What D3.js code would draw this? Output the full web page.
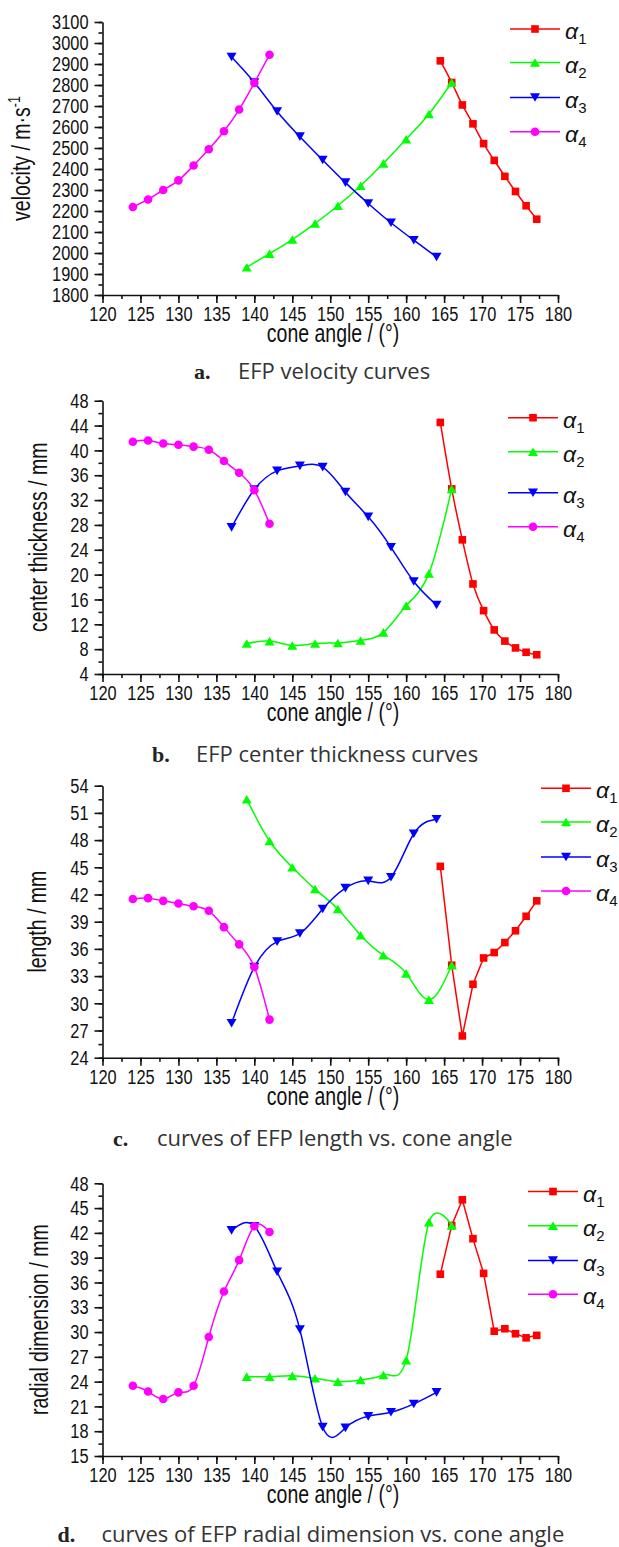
<!DOCTYPE html>
<html>
<head>
<meta charset="utf-8">
<script src="https://cdn.jsdelivr.net/npm/d3@7"></script>
<style>
  body { margin: 0; background: #fff; }
  svg { display: block; }
  .tick text { font-family: "Liberation Sans", Arial, sans-serif; font-size: 21px; fill: #111; }
  .axtitle { font-family: "Liberation Sans", Arial, sans-serif; font-size: 25px; fill: #111; }
  .caption { font-family: "Open Sans", sans-serif; font-size: 22px; fill: #333; }
  .capnum { font-family: "Liberation Serif", serif; font-weight: bold; font-size: 22px; fill: #222; }
  .leg { font-family: "Liberation Sans", sans-serif; font-size: 23px; fill: #111; }
</style>
</head>
<body>
<script>
// cone angles of the four series
var angle1 = [164.5, 166, 167.4, 168.8, 170.2, 171.6, 173, 174.4, 175.8, 177.2];
var angle2 = [139, 142, 145, 148, 151, 154, 157, 160, 163, 166];
var angle3 = [137, 140, 143, 146, 149, 152, 155, 158, 161, 164];
var angle4 = [124, 126, 128, 130, 132, 134, 136, 138, 140, 142];

// a. velocity (m/s)
var velocity1 = [2915, 2812, 2705, 2615, 2521, 2441, 2365, 2293, 2225, 2161];
var velocity2 = [1932, 1997, 2064, 2141, 2225, 2320, 2427, 2542, 2662, 2812];
var velocity3 = [2933, 2812, 2674, 2554, 2443, 2335, 2236, 2144, 2061, 1981];
var velocity4 = [2219, 2255, 2300, 2346, 2417, 2494, 2580, 2683, 2810, 2944];

// b. center thickness (mm)
var thick1 = [44.5, 33.8, 25.6, 18.5, 14.2, 11.1, 9.3, 8.2, 7.5, 7.1];
var thick2 = [8.9, 9.3, 8.6, 8.9, 9.0, 9.4, 10.7, 15.0, 20.2, 33.8];
var thick3 = [27.6, 33.7, 36.7, 37.5, 37.3, 33.3, 29.3, 24.4, 18.9, 15.1];
var thick4 = [41.4, 41.6, 41.1, 40.9, 40.6, 40.1, 38.3, 36.4, 33.6, 28.2];

// c. length (mm)
var length1 = [45.1, 34.2, 26.4, 32.1, 35.0, 35.6, 36.7, 38.0, 39.6, 41.3];
var length2 = [52.5, 47.9, 45.0, 42.6, 40.4, 37.5, 35.3, 33.3, 30.4, 34.2];
var length3 = [27.8, 34.0, 36.8, 37.7, 40.4, 42.7, 43.5, 43.9, 48.7, 50.3];
var length4 = [41.5, 41.6, 41.3, 41.0, 40.7, 40.2, 38.4, 36.5, 34.0, 28.2];

// d. radial dimension (mm)
var radial1 = [37.0, 42.9, 46.0, 41.3, 37.1, 30.1, 30.4, 29.8, 29.3, 29.6];
var radial2 = [24.6, 24.6, 24.7, 24.4, 24.0, 24.2, 24.8, 26.6, 43.3, 42.9];
var radial3 = [42.3, 42.8, 37.3, 30.3, 18.5, 18.4, 19.8, 20.3, 21.3, 22.7];
var radial4 = [23.5, 22.8, 21.9, 22.7, 23.5, 29.4, 34.9, 38.7, 42.8, 42.1];

var xTicks = [120, 125, 130, 135, 140, 145, 150, 155, 160, 165, 170, 175, 180];
var seriesNames = ["1", "2", "3", "4"];
var colors = ["#ff0000", "#00ff00", "#0000ff", "#ff00ff"];
var shapes = ["square", "up", "down", "circle"];

var NARROW = 0.78; // squeeze Liberation Sans into an Arial Narrow look

var svg = d3.select("body").append("svg")
    .attr("width", 619).attr("height", 1547);

var x = d3.scaleLinear().domain([120, 180]).range([102.5, 558]);

function drawMarker(g, shape, color) {
  if (shape == "square") {
    return g.append("rect").attr("x", -3.8).attr("y", -3.8)
      .attr("width", 7.6).attr("height", 7.6).attr("fill", color);
  }
  if (shape == "circle") {
    return g.append("circle").attr("r", 4.3).attr("fill", color);
  }
  var w = 5, h = 4.3;
  var p = shape == "up"
    ? "M0," + (-h) + "L" + w + "," + h + "L" + (-w) + "," + h + "Z"
    : "M0," + h + "L" + w + "," + (-h) + "L" + (-w) + "," + (-h) + "Z";
  return g.append("path").attr("d", p).attr("fill", color);
}

function panel(cfg) {
  var y = d3.scaleLinear().domain(cfg.yDomain).range([cfg.bottom, cfg.top]);
  var g = svg.append("g");

  // minor ticks
  g.append("g").attr("transform", "translate(0," + cfg.bottom + ")")
    .call(d3.axisBottom(x).tickValues(d3.range(120, 180.1, 2.5)).tickSize(4).tickFormat(""))
    .call(s => s.select(".domain").remove());
  g.append("g").attr("transform", "translate(" + x(120) + ",0)")
    .call(d3.axisLeft(y).tickValues(d3.range(cfg.yDomain[0], cfg.yDomain[1] + 0.01, cfg.step / 2)).tickSize(4).tickFormat(""))
    .call(s => s.select(".domain").remove());

  var xa = g.append("g").attr("transform", "translate(0," + cfg.bottom + ")")
    .call(d3.axisBottom(x).tickValues(xTicks).tickSize(8).tickSizeOuter(0).tickPadding(3));
  xa.selectAll(".tick text").attr("transform", "scale(" + NARROW + ",1)");

  var ya = g.append("g").attr("transform", "translate(" + x(120) + ",0)")
    .call(d3.axisLeft(y).tickValues(d3.range(cfg.yDomain[0], cfg.yDomain[1] + 0.01, cfg.step))
      .tickFormat(d3.format("d")).tickSize(8).tickSizeOuter(0).tickPadding(6));
  ya.selectAll(".tick text").attr("x", -14 / NARROW).attr("transform", "scale(" + NARROW + ",1)");
  g.selectAll(".domain, .tick line").attr("stroke", "#111").attr("stroke-width", 1.6);

  g.append("text").attr("class", "axtitle")
    .attr("transform", "translate(333," + (cfg.bottom + 47) + ") scale(" + NARROW + ",1)")
    .attr("text-anchor", "middle")
    .text("cone angle / (°)");

  var yt = g.append("text").attr("class", "axtitle")
    .attr("transform", "translate(" + cfg.titleX + "," + (cfg.top + cfg.bottom) / 2 + ") rotate(-90) scale(" + NARROW + ",1)")
    .attr("text-anchor", "middle");
  yt.append("tspan").text(cfg.title);
  if (cfg.sup) {
    yt.append("tspan").attr("dy", -10).attr("font-size", 16).text(cfg.sup);
  }

  cfg.series.forEach(function (s, i) {
    var pts = s.xs.map((v, k) => [x(v), y(s.ys[k])]);
    g.append("path")
      .attr("d", d3.line().curve(cfg.curves[i])(pts))
      .attr("fill", "none").attr("stroke", colors[i]).attr("stroke-width", 1.5);
    pts.forEach(function (p) {
      drawMarker(g.append("g").attr("transform", "translate(" + p[0] + "," + p[1] + ")"), shapes[i], colors[i]);
    });
  });

  // legend
  seriesNames.forEach(function (n, i) {
    var ly = cfg.legRows[i];
    g.append("line").attr("x1", cfg.legX).attr("x2", cfg.legX + 50)
      .attr("y1", ly).attr("y2", ly).attr("stroke", colors[i]).attr("stroke-width", 1.5);
    drawMarker(g.append("g").attr("transform", "translate(" + (cfg.legX + 25) + "," + ly + ")"), shapes[i], colors[i]);
    var t = g.append("text").attr("class", "leg").attr("x", cfg.legX + 55).attr("y", ly + 10);
    t.append("tspan").attr("font-style", "italic").text("α");
    t.append("tspan").attr("dy", 5).attr("font-size", 15).text(n);
  });

  // caption
  g.append("text").attr("class", "capnum").attr("x", cfg.capX).attr("y", cfg.capY).text(cfg.capNum);
  g.append("text").attr("class", "caption").attr("x", cfg.capX + 44).attr("y", cfg.capY).text(cfg.caption);
}

var natural = d3.curveNatural, linear = d3.curveLinear, catmull = d3.curveCatmullRom.alpha(0);

panel({
  top: 22, bottom: 295, yDomain: [1800, 3100], step: 100,
  title: "velocity / m·s", sup: "-1", titleX: 30,
  legX: 510, legRows: [29, 62.5, 97.5, 131.7],
  curves: [natural, natural, natural, natural],
  series: [{xs: angle1, ys: velocity1}, {xs: angle2, ys: velocity2}, {xs: angle3, ys: velocity3}, {xs: angle4, ys: velocity4}],
  capX: 194, capY: 379, capNum: "a.", caption: "EFP velocity curves"
});

panel({
  top: 400.7, bottom: 674, yDomain: [4, 48], step: 4,
  title: "center thickness / mm", titleX: 47,
  legX: 508, legRows: [417.7, 451.7, 492.7, 526.7],
  curves: [natural, natural, natural, natural],
  series: [{xs: angle1, ys: thick1}, {xs: angle2, ys: thick2}, {xs: angle3, ys: thick3}, {xs: angle4, ys: thick4}],
  capX: 152, capY: 761.7, capNum: "b.", caption: "EFP center thickness curves"
});

panel({
  top: 785.7, bottom: 1057.7, yDomain: [24, 54], step: 3,
  title: "length / mm", titleX: 46,
  legX: 541, legRows: [788.3, 822, 857, 891],
  curves: [linear, natural, natural, natural],
  series: [{xs: angle1, ys: length1}, {xs: angle2, ys: length2}, {xs: angle3, ys: length3}, {xs: angle4, ys: length4}],
  capX: 113, capY: 1146, capNum: "c.", caption: "curves of EFP length vs. cone angle"
});

panel({
  top: 1183.3, bottom: 1456, yDomain: [15, 48], step: 3,
  title: "radial dimension / mm", titleX: 48,
  legX: 528, legRows: [1191.5, 1225.7, 1260.5, 1294.2],
  curves: [linear, catmull, natural, natural],
  series: [{xs: angle1, ys: radial1}, {xs: angle2, ys: radial2}, {xs: angle3, ys: radial3}, {xs: angle4, ys: radial4}],
  capX: 57.5, capY: 1541.7, capNum: "d.", caption: "curves of EFP radial dimension vs. cone angle"
});
</script>
</body>
</html>
